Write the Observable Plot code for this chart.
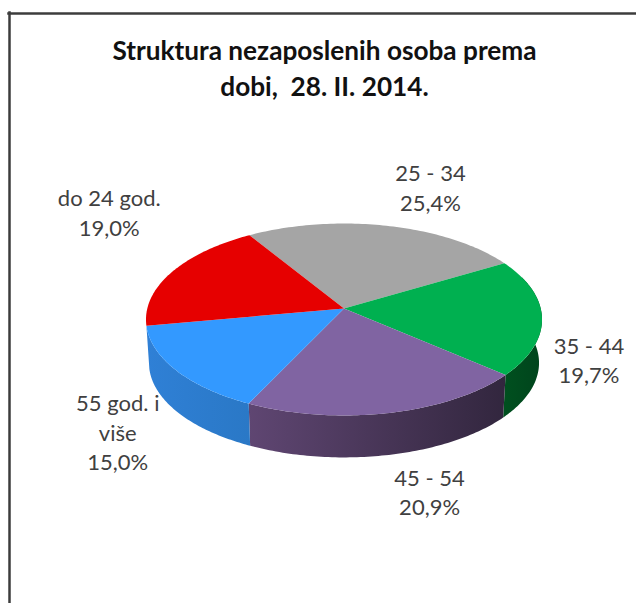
<!DOCTYPE html>
<html>
<head>
<meta charset="utf-8">
<style>html,body{margin:0;padding:0;background:#fff}svg{display:block}</style>
<script src="https://cdn.jsdelivr.net/npm/d3@7"></script>
<script src="https://cdn.jsdelivr.net/npm/@observablehq/plot@0.6"></script>
</head>
<body>
<div id="chart"></div>
<script>
// Chart data
const categories = ["25 - 34", "35 - 44", "45 - 54", "55 god. i\nviše", "do 24 god."];
const shares = [25.4, 19.7, 20.9, 15.0, 19.0];
const shareLabels = ["25,4%", "19,7%", "20,9%", "15,0%", "19,0%"];
const titleLines = "Struktura nezaposlenih osoba prema\ndobi,  28. II. 2014.";

// Styles
const topColors = ["#a5a5a5", "#00b050", "#8064a2", "#3399ff", "#e60000"];
const wallStops = [null, ["#00501f", "#00441c"], ["#5f4672", "#32263e"], ["#2f80d6", "#2a78c6"], null];

// Layout of the tilted pie
const firstAngle = -31.85;           // degrees clockwise from the back of the pie
const tilt = 0.1146;                 // perspective foreshortening
const rimScale = 0.985, depth = 0.46;
const labelNudges = [[44, -39], [47, 42], [40, 78], [-58, 61], [-63, -60]];

const rad = d => d * Math.PI / 180;
const project = (deg, r = 1) => {
  const X = r * Math.sin(rad(deg)), Y = r * Math.cos(rad(deg));
  const d = 1 + tilt * Y;
  return [X / d, Y / d];
};
const lower = deg => {
  const [x, y] = project(deg);
  return [x * rimScale, y * rimScale - depth];
};

const total = d3.sum(shares);
let run = firstAngle;
const slices = categories.map((category, i) => {
  const start = run, end = run + shares[i] / total * 360;
  run = end;
  return {i, category, start, end, mid: (start + end) / 2};
});
const arc = (a, b) => d3.range(0, 81).map(k => a + (b - a) * k / 80);

const tops = slices.flatMap(s => [
  {i: s.i, p: [0, 0]},
  ...arc(s.start, s.end).map(t => ({i: s.i, p: project(t)}))
]);

// The visible outer wall lies between the two silhouette angles
const wallFrom = 70, wallTo = slices[4].start;
const walls = slices.filter(s => wallStops[s.i]).flatMap(s => {
  const a = Math.max(s.start, wallFrom), b = Math.min(s.end, wallTo);
  return [
    ...arc(a, b).map(t => ({i: s.i, p: project(t)})),
    ...arc(b, a).map(t => ({i: s.i, p: lower(t)}))
  ];
});

const labels = slices.map(s => {
  const [x, y] = project(s.mid);
  return {x, y, dx: labelNudges[s.i][0], dy: labelNudges[s.i][1], text: `${s.category}\n${shareLabels[s.i]}`};
});

const gradients = () => {
  const ns = "http://www.w3.org/2000/svg";
  const defs = document.createElementNS(ns, "defs");
  wallStops.forEach((stops, i) => {
    if (!stops) return;
    const g = document.createElementNS(ns, "linearGradient");
    g.setAttribute("id", `wall${i}`);
    stops.forEach((color, k) => {
      const stop = document.createElementNS(ns, "stop");
      stop.setAttribute("offset", k);
      stop.setAttribute("stop-color", color);
      g.appendChild(stop);
    });
    defs.appendChild(g);
  });
  return defs;
};

const wallMarks = slices.filter(s => wallStops[s.i]).map(s =>
  Plot.line(walls.filter(d => d.i === s.i), {
    x: d => d.p[0], y: d => d.p[1],
    fill: `url(#wall${s.i})`, stroke: "none", curve: "linear-closed"
  })
);
const topMarks = slices.map(s =>
  Plot.line(tops.filter(d => d.i === s.i), {
    x: d => d.p[0], y: d => d.p[1],
    fill: topColors[s.i], stroke: "none", curve: "linear-closed"
  })
);

const FONT = "Lato, 'Open Sans', sans-serif";
const chart = Plot.plot({
  width: 636, height: 603,
  margin: 0,
  style: {background: "#fff", fontFamily: FONT, overflow: "visible"},
  x: {domain: [-343.5 / 196.7, (636 - 343.5) / 196.7], range: [0, 636], axis: null},
  y: {domain: [(308 - 603) / 94.7, 308 / 94.7], range: [603, 0], axis: null},
  marks: [
    gradients,
    Plot.frame({anchor: "top", dy: 13, insetLeft: 8, stroke: "#3c3c3c", strokeWidth: 2.5}),
    Plot.frame({anchor: "left", dx: 9, insetTop: 12, stroke: "#3c3c3c", strokeWidth: 2.5}),
    ...wallMarks,
    ...topMarks,
    ...labels.map(l => Plot.text([l], {
      x: "x", y: "y", text: "text", dx: l.dx, dy: l.dy,
      fontSize: 22, lineHeight: 1.34, fill: "#404040", textAnchor: "middle", fontFamily: FONT
    })),
    Plot.text([titleLines], {
      frameAnchor: "top", text: d => d, dx: 6, dy: 35,
      fontSize: 26.2, fontWeight: 700, lineHeight: 1.34, fill: "#111", lineAnchor: "top", fontFamily: FONT
    })
  ]
});
document.getElementById("chart").appendChild(chart);
</script>
</body>
</html>
